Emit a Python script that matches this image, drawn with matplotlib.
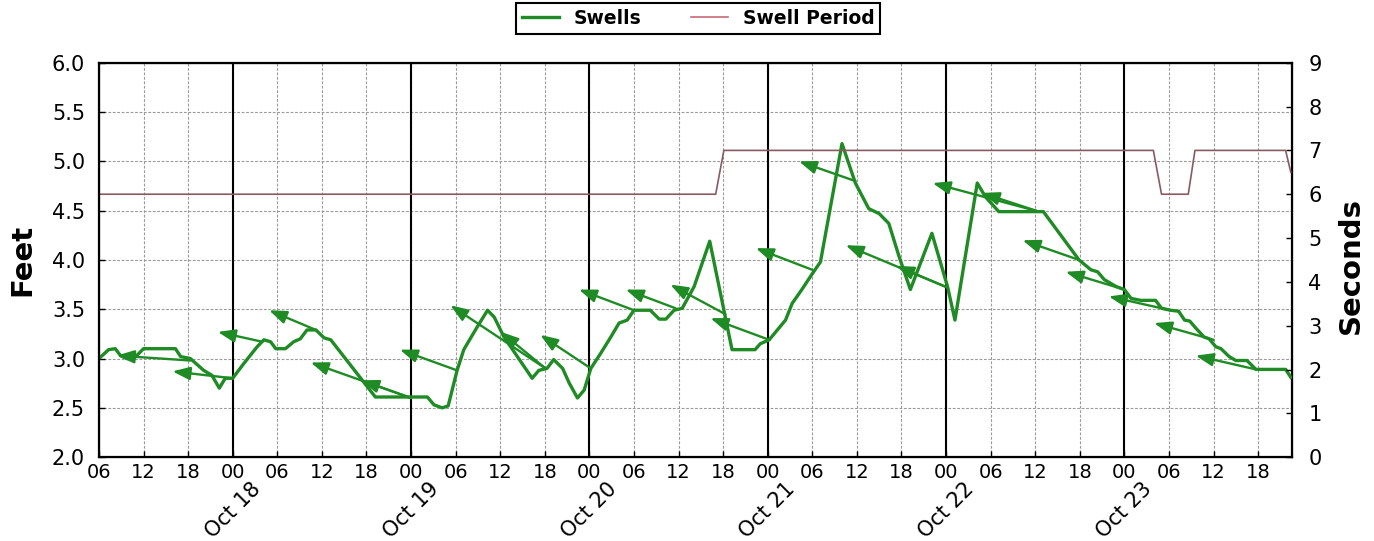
import numpy as np
import matplotlib.pyplot as plt
from matplotlib.lines import Line2D
import matplotlib.transforms as mtransforms

# hours counted from Oct 17 00:00
swell_hours = [6, 7.3, 8.2, 8.9, 9.8, 10.7, 12.0, 16.3, 17.0, 18.3, 20.1, 21.2, 22.2, 23.0, 24.0,
               25.5, 27.3, 28.2, 29.1, 29.8, 31.1, 32.2, 33.1, 34.0, 35.2, 36.3, 37.2, 43.2, 50.2,
               51.1, 52.2, 53.0, 54.2, 55.1, 56.9, 58.3, 59.2, 60.5, 64.3, 65.2, 66.3, 67.2, 68.4,
               69.3, 70.4, 71.3, 72.2, 73.5, 74.9, 76.0, 77.1, 78.0, 80.2, 81.4, 82.3, 83.4, 84.5,
               86.1, 88.2, 91.2, 94.3, 95.0, 96.2, 97.3, 98.4, 99.3, 100.6, 102.0, 103.1, 106.0,
               107.8, 109.6, 111.0, 112.3, 113.7, 115.2, 118.1, 120.2, 121.2, 124.2, 125.3, 127.1,
               133.1, 137.9, 139.5, 140.4, 141.3, 142.9, 144.0, 144.9, 146.2, 148.2, 149.0, 150.2,
               151.3, 152.1, 152.8, 153.6, 154.7, 155.4, 156.3, 157.0, 158.1, 159.0, 160.5, 161.7,
               165.7, 166.4]
swell_feet = [3.00, 3.09, 3.10, 3.03, 3.00, 3.00, 3.10, 3.10, 3.02, 3.00, 2.88, 2.83, 2.70, 2.80, 2.80,
              2.95, 3.12, 3.19, 3.17, 3.10, 3.10, 3.17, 3.20, 3.29, 3.29, 3.21, 3.19, 2.61, 2.61,
              2.53, 2.50, 2.52, 2.88, 3.09, 3.32, 3.49, 3.42, 3.22, 2.80, 2.88, 2.90, 2.99, 2.90,
              2.75, 2.60, 2.68, 2.90, 3.05, 3.22, 3.36, 3.39, 3.49, 3.49, 3.40, 3.40, 3.49, 3.51,
              3.73, 4.19, 3.09, 3.09, 3.15, 3.19, 3.29, 3.39, 3.56, 3.70, 3.86, 3.98, 5.18,
              4.78, 4.52, 4.47, 4.37, 4.03, 3.70, 4.27, 3.73, 3.39, 4.78, 4.64, 4.49,
              4.49, 4.00, 3.90, 3.88, 3.80, 3.73, 3.70, 3.61, 3.59, 3.59, 3.51, 3.49,
              3.48, 3.39, 3.38, 3.31, 3.22, 3.20, 3.12, 3.10, 3.02, 2.98, 2.98, 2.89,
              2.89, 2.81]

period_hours = [6, 89.0, 90.1, 147.9, 149.0, 152.6, 153.5, 165.7, 166.4]
period_secs = [6, 6, 7, 7, 6, 6, 7, 7, 6.5]

# swell direction arrows: tail on the swell line, head pointing where the swell goes
arrow_tail_hours = [18.3, 24.0, 28.0, 35.2, 48.0, 48.0, 54.2, 66.1, 66.1, 72.2, 78.0, 83.6, 90.3,
                    96.2, 102.0, 107.8, 120.2, 120.2, 132.5, 132.5, 137.9, 144.0, 150.2, 156.0, 161.7]
arrow_tail_feet = [2.98, 2.80, 3.17, 3.29, 2.60, 2.60, 2.88, 2.90, 2.90, 2.90, 3.49, 3.51, 3.45,
                   3.19, 3.90, 4.80, 3.72, 3.72, 4.49, 4.49, 4.00, 3.70, 3.49, 3.19, 2.89]
arrow_head_hours = [8.4, 15.9, 22.0, 28.9, 34.5, 41.3, 46.5, 53.3, 60.1, 65.4, 70.6, 76.9, 82.9,
                    88.3, 94.4, 100.2, 106.5, 113.3, 118.2, 124.8, 130.3, 136.1, 141.9, 148.0, 153.6]
arrow_head_feet = [3.03, 2.87, 3.27, 3.49, 2.96, 2.78, 3.09, 3.54, 3.27, 3.24, 3.70, 3.70, 3.75,
                   3.41, 4.12, 5.00, 4.15, 3.94, 4.78, 4.68, 4.20, 3.88, 3.63, 3.36, 3.03]

tick_hours = list(range(6, 163, 6))
day_hours = [24, 48, 72, 96, 120, 144]
day_labels = ['Oct 18', 'Oct 19', 'Oct 20', 'Oct 21', 'Oct 22', 'Oct 23']

green = '#1f8b24'
period_color = '#8a5a60'

fig = plt.figure(figsize=(13.74, 5.41), dpi=100)
ax = fig.add_axes([0.072, 0.155, 0.868, 0.729])

ax.set_xlim(6, 166.5)
ax.set_ylim(2.0, 6.0)
ax.set_xticks(tick_hours)
ax.set_xticklabels(['%02d' % (h % 24) for h in tick_hours], fontsize=14)
ax.set_yticks(np.arange(2.0, 6.01, 0.5))
ax.set_yticklabels(['%.1f' % v for v in np.arange(2.0, 6.01, 0.5)], fontsize=15)
ax.tick_params(axis='y', direction='in', length=4, width=1, pad=10)
ax.tick_params(axis='x', direction='in', length=4, width=1, pad=4)
ax.grid(True, color='#9a9a9a', linestyle=(0, (2.5, 1.5)), linewidth=0.8)
for h in day_hours:
    ax.axvline(h, color='black', linewidth=1.5, zorder=2)
for s in ax.spines.values():
    s.set_linewidth(1.6)

ax.plot(swell_hours, swell_feet, color=green, linewidth=2.4, zorder=4)
for th, tf, hh, hf in zip(arrow_tail_hours, arrow_tail_feet, arrow_head_hours, arrow_head_feet):
    ax.annotate('', xy=(hh, hf), xytext=(th, tf),
                arrowprops=dict(arrowstyle='-|>,head_length=0.75,head_width=0.28',
                                color=green, lw=1.7, mutation_scale=14,
                                shrinkA=0, shrinkB=0), zorder=5)

trans = mtransforms.blended_transform_factory(ax.transData, ax.transAxes)
for h, lab in zip(day_hours, day_labels):
    ax.text(h, -0.055, lab, transform=trans, rotation=45, ha='center', va='top', fontsize=15)

ax2 = ax.twinx()
ax2.plot(period_hours, period_secs, color=period_color, linewidth=1.2)
ax2.set_ylim(0, 9)
ax2.set_yticks(range(10))
ax2.set_yticklabels([str(i) for i in range(10)], fontsize=15)
ax2.tick_params(direction='in', length=4, width=1, pad=12)

fig.text(0.016, 0.519, 'Feet', rotation=90, ha='center', va='center', fontsize=21, fontweight='bold')
fig.text(0.983, 0.51, 'Seconds', rotation=90, ha='center', va='center', fontsize=21, fontweight='bold')

handles = [Line2D([], [], color=green, linewidth=2.4),
           Line2D([], [], color='#c46a78', linewidth=1.2)]
leg = ax.legend(handles, ['Swells', 'Swell Period'], loc='lower center',
                bbox_to_anchor=(0.5025, 1.05), ncol=2, fancybox=False, edgecolor='black',
                prop={'weight': 'bold', 'size': 13.5}, handlelength=2.0, columnspacing=2.6,
                borderpad=0.3, framealpha=1)
leg.get_frame().set_linewidth(1.5)

fig.savefig('out.png', dpi=100)
